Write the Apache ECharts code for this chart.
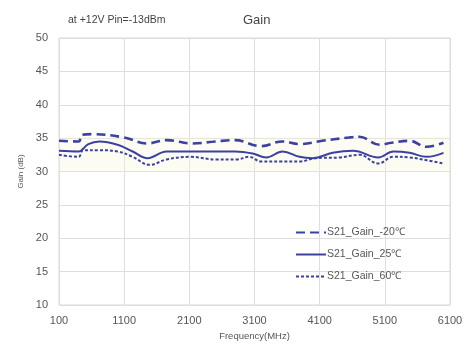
<!DOCTYPE html>
<html>
<head>
<meta charset="utf-8">
<script src="https://cdn.jsdelivr.net/npm/echarts@6/dist/echarts.min.js"></script>
<style>
  html, body { margin: 0; padding: 0; background: #fff; }
  #chart { width: 474px; height: 351px; }
</style>
</head>
<body>
<div id="chart"></div>
<script>
// Gain vs frequency at three temperatures
const seriesNames = ['S21_Gain_-20\u2103', 'S21_Gain_25\u2103', 'S21_Gain_60\u2103'];

const freqCold = [100, 400, 450, 600, 1100, 1450, 1750, 2150, 2500, 2800, 3200, 3530, 3790, 4140, 4560, 4710, 5020, 5200, 5480, 5740, 6000];
const gainCold = [34.6, 34.5, 35.5, 35.6, 35.1, 34.2, 34.7, 34.2, 34.5, 34.7, 33.8, 34.5, 34.1, 34.6, 35.1, 35.2, 34.0, 34.3, 34.6, 33.7, 34.3];

const freqRoom = [100, 400, 550, 720, 1000, 1230, 1460, 1750, 2100, 2800, 3070, 3280, 3530, 3790, 3990, 4300, 4610, 5000, 5230, 5480, 5740, 6000];
const gainRoom = [33.1, 33.0, 34.1, 34.5, 34.0, 33.0, 32.0, 33.0, 33.0, 33.0, 32.7, 32.1, 33.0, 32.2, 32.0, 32.8, 33.1, 32.1, 33.0, 32.8, 32.2, 32.8];

const freqHot = [100, 400, 470, 720, 1000, 1230, 1490, 1750, 2110, 2520, 2820, 3020, 3200, 3500, 3790, 4040, 4400, 4710, 5000, 5230, 5480, 5740, 6000];
const gainHot = [32.5, 32.2, 33.2, 33.2, 33.0, 32.2, 31.0, 31.8, 32.2, 31.8, 31.8, 32.2, 31.5, 31.5, 31.5, 32.0, 32.1, 32.5, 31.2, 32.2, 32.1, 31.7, 31.2];

const xTicks = [100, 1100, 2100, 3100, 4100, 5100, 6100];
const yTicks = [10, 15, 20, 25, 30, 35, 40, 45, 50];

const lineColor = '#3b41a3';
const pair = (xs, ys) => xs.map((x, i) => [x, ys[i]]);

const chart = echarts.init(document.getElementById('chart'), null, { renderer: 'canvas' });
chart.setOption({
  animation: false,
  backgroundColor: '#ffffff',
  title: [
    {
      text: 'Gain',
      left: 238, top: 9,
      textStyle: { fontFamily: 'Liberation Sans, Arial', fontSize: 13, fontWeight: 'normal', color: '#444' }
    },
    {
      text: 'at +12V Pin=-13dBm',
      left: 63, top: 10,
      textStyle: { fontFamily: 'Liberation Sans, Arial', fontSize: 10.5, fontWeight: 'normal', color: '#444' }
    }
  ],
  grid: { left: 59, right: 24, top: 38, bottom: 46, show: true, borderColor: '#d9d9d9', borderWidth: 1 },
  legend: {
    orient: 'vertical',
    left: 290, top: 222,
    itemWidth: 30, itemHeight: 10, itemGap: 11,
    itemStyle: { opacity: 0 },
    textStyle: { fontFamily: 'Liberation Sans, Arial', fontSize: 10.5, color: '#555', padding: [0, 0, 0, -4] },
    data: seriesNames
  },
  xAxis: {
    type: 'value',
    min: xTicks[0], max: xTicks[xTicks.length - 1], interval: 1000,
    name: 'Frequency(MHz)', nameLocation: 'middle', nameGap: 25,
    nameTextStyle: { fontFamily: 'Liberation Sans, Arial', fontSize: 9.5, color: '#555' },
    axisLine: { show: false }, axisTick: { show: false },
    axisLabel: { fontFamily: 'Liberation Sans, Arial', fontSize: 11, color: '#555', margin: 10, formatter: v => String(v) },
    splitLine: { show: true, lineStyle: { color: '#dedede', width: 1 } }
  },
  yAxis: {
    type: 'value',
    min: yTicks[0], max: yTicks[yTicks.length - 1], interval: 5,
    name: 'Gain (dB)', nameLocation: 'middle', nameGap: 33, nameRotate: 90,
    nameTextStyle: { fontFamily: 'Liberation Sans, Arial', fontSize: 8, color: '#555' },
    axisLine: { show: false }, axisTick: { show: false },
    axisLabel: { fontFamily: 'Liberation Sans, Arial', fontSize: 11, color: '#555', margin: 11 },
    splitLine: { show: true, lineStyle: { color: '#dedede', width: 1 } }
  },
  series: [
    {
      name: seriesNames[0], type: 'line', smooth: 0.4, symbol: 'none',
      data: pair(freqCold, gainCold),
      lineStyle: { color: lineColor, width: 2.6, type: [9, 5] },
      itemStyle: { color: lineColor },
      markArea: {
        silent: true,
        itemStyle: { color: 'rgba(250,245,222,0.35)' },
        data: [[{ yAxis: 30 }, { yAxis: 35.2 }]]
      }
    },
    {
      name: seriesNames[1], type: 'line', smooth: 0.4, symbol: 'none',
      data: pair(freqRoom, gainRoom),
      lineStyle: { color: lineColor, width: 2 },
      itemStyle: { color: lineColor }
    },
    {
      name: seriesNames[2], type: 'line', smooth: 0.4, symbol: 'none',
      data: pair(freqHot, gainHot),
      lineStyle: { color: lineColor, width: 2, type: [3, 2] },
      itemStyle: { color: lineColor }
    }
  ]
});
</script>
</body>
</html>
